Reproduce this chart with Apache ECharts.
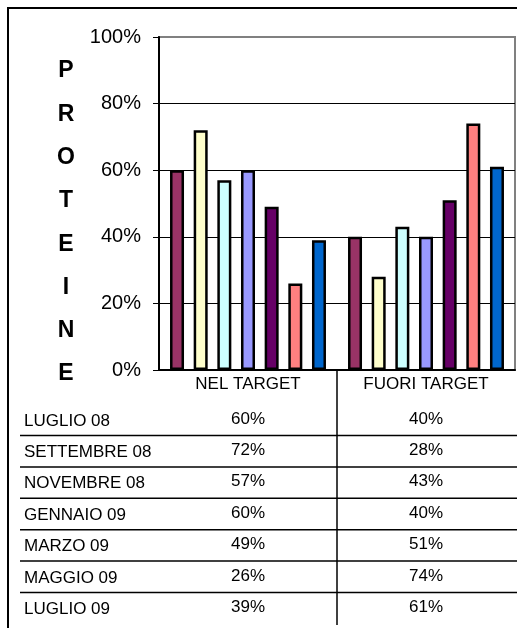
<!DOCTYPE html>
<html>
<head>
<meta charset="utf-8">
<script src="https://cdn.jsdelivr.net/npm/echarts@6/dist/echarts.min.js"></script>
<style>
    html, body { margin: 0; padding: 0; background: #fff; }
    #chart { width: 517px; height: 630px; }
</style>
</head>
<body>
<div id="chart"></div>
<script>
const categories = ['NEL TARGET', 'FUORI TARGET']
const months = ['LUGLIO 08', 'SETTEMBRE 08', 'NOVEMBRE 08', 'GENNAIO 09', 'MARZO 09', 'MAGGIO 09', 'LUGLIO 09']
const nelTarget = [60, 72, 57, 60, 49, 26, 39]
const fuoriTarget = [40, 28, 43, 40, 51, 74, 61]
const yTicks = [0, 20, 40, 60, 80, 100]
const titleLetters = ['P', 'R', 'O', 'T', 'E', 'I', 'N', 'E']

const colors = ['#993366', '#FFFFCC', '#CCFFFF', '#9999FF', '#660066', '#FF8080', '#0066CC']
const font = 'Liberation Sans, Arial, sans-serif'

const chart = echarts.init(document.getElementById('chart'))

chart.setOption({
    animation: false,
    grid: {
        left: 159,
        top: 37,
        right: 2,
        bottom: 260,
        show: true,
        borderColor: '#808080',
        borderWidth: 2
    },
    xAxis: {
        type: 'category',
        data: categories,
        axisLine: { lineStyle: { color: '#000', width: 2 } },
        axisTick: { show: false },
        axisLabel: { color: '#000', fontSize: 17, fontFamily: font, margin: 6 }
    },
    yAxis: {
        type: 'value',
        min: yTicks[0],
        max: yTicks[yTicks.length - 1],
        interval: 20,
        axisLine: { show: true, lineStyle: { color: '#000', width: 2 } },
        axisTick: { show: true, length: 6, lineStyle: { color: '#000' } },
        axisLabel: { color: '#000', fontSize: 20, fontFamily: font, margin: 18, formatter: '{value}%' },
        splitLine: { show: true, showMaxLine: false, lineStyle: { color: '#000', width: 1 } }
    },
    series: months.map((m, i) => ({
        name: m,
        type: 'bar',
        data: [nelTarget[i], fuoriTarget[i]],
        barWidth: 14,
        barGap: '69%',
        itemStyle: { color: colors[i], borderColor: '#000', borderWidth: 2.5 }
    }))
})

// data table under the plot + frame + vertical title
function drawExtras() {
    const c0 = chart.convertToPixel({ xAxisIndex: 0 }, 0)
    const c1 = chart.convertToPixel({ xAxisIndex: 0 }, 1)
    const divX = (c0 + c1) / 2
    const axisY = chart.convertToPixel({ yAxisIndex: 0 }, 0)
    const rowTop = 421
    const rowStep = 31.4
    const els = []

    // outer frame (left + top)
    els.push({
        type: 'polyline',
        shape: { points: [[8, 628], [8, 8], [517, 8]] },
        style: { stroke: '#000', lineWidth: 2, fill: null }
    })

    // vertical title
    titleLetters.forEach((l, i) => {
        els.push({
            type: 'text',
            x: 66,
            y: 71 + i * 43.3,
            style: {
                text: l, fill: '#000', font: 'bold 23px ' + font,
                textAlign: 'center', textVerticalAlign: 'middle'
            }
        })
    })

    // table divider
    els.push({
        type: 'line',
        shape: { x1: divX, y1: axisY, x2: divX, y2: 625 },
        style: { stroke: '#000', lineWidth: 1.5 }
    })

    months.forEach((m, i) => {
        const y = rowTop + i * rowStep
        els.push({
            type: 'text', x: 24, y: y,
            style: { text: m, fill: '#000', font: '17px ' + font, textVerticalAlign: 'middle' }
        })
        els.push({
            type: 'text', x: c0, y: y - 2,
            style: { text: nelTarget[i] + '%', fill: '#000', font: '17px ' + font, textAlign: 'center', textVerticalAlign: 'middle' }
        })
        els.push({
            type: 'text', x: c1, y: y - 2,
            style: { text: fuoriTarget[i] + '%', fill: '#000', font: '17px ' + font, textAlign: 'center', textVerticalAlign: 'middle' }
        })
        if (i < months.length - 1) {
            els.push({
                type: 'line',
                shape: { x1: 20, y1: y + 14.5, x2: 517, y2: y + 14.5 },
                style: { stroke: '#000', lineWidth: 1.5 }
            })
        }
    })

    chart.setOption({ graphic: els })
}

drawExtras()
</script>
</body>
</html>
